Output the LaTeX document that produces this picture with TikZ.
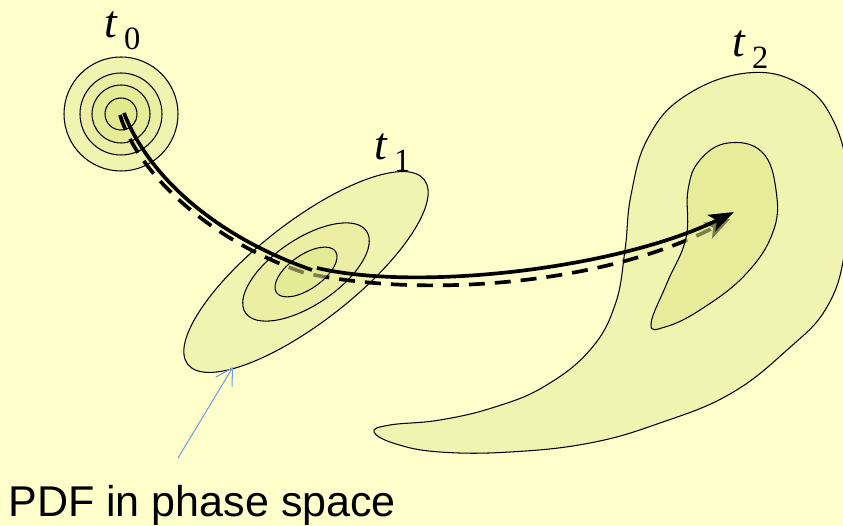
\documentclass[tikz,border=0pt]{standalone}
\usepackage{fontspec}
\setmainfont{Liberation Serif}
\newfontfamily\labelfont{Liberation Sans}
\usetikzlibrary{arrows.meta}

\definecolor{bgyellow}{HTML}{FFFFCC}
\definecolor{pdfA}{HTML}{F1F3B0}
\definecolor{pdfB}{HTML}{ECEFA3}
\definecolor{pdfC}{HTML}{E6EB95}
\definecolor{pdfD}{HTML}{E2E88C}
\definecolor{pdfcore}{HTML}{E1E888}
\definecolor{pointerblue}{HTML}{70A0E0}

\newcommand{\timelabel}[1]{{\fontsize{26}{26}\selectfont\itshape t}\hspace{4pt}\raisebox{-6.6pt}{\fontsize{18.5}{18.5}\selectfont #1}}

\begin{document}
\begin{tikzpicture}[x=0.02cm, y=-0.02cm,
        contour/.style={draw=black, line width=0.6pt},
        core/.style={contour, fill=pdfcore, fill opacity=0.55},
        mean_path/.style={line width=2.1pt},
        ens_path/.style={line width=2.1pt, dash pattern=on 3.2mm off 2mm},
        head/.style={-{Stealth[length=5mm, width=3.6mm, inset=1.2mm]}},
        time_label/.style={anchor=base west, inner sep=0pt},
        pointer/.style={draw=pointerblue, line width=0.6pt, -{Straight Barb[length=3.3mm, width=3.8mm]}}
    ]

    % Pozadí a ořez
    \useasboundingbox (0,0) rectangle (843,526);
    \fill[bgyellow] (0,0) rectangle (843,526);
    \clip (0,0) rectangle (843,526);

    % Středy rozdělení a konce drah
    \coordinate (c0) at (121,114);
    \coordinate (c1) at (306,272);
    \coordinate (m0) at (124,113);
    \coordinate (m1) at (312,270);
    \coordinate (m1b) at (317,268);
    \coordinate (m2) at (734,212);
    \coordinate (e0) at (120,115);
    \coordinate (e1) at (305,273);
    \coordinate (e2) at (730,219);

    % t0: soustředné kružnice
    \foreach \r/\col in {57/pdfA, 41/pdfB, 29/pdfC, 16/pdfD}
        \draw[contour, fill=\col] (c0) circle [radius=\r];

    % t1: protažené elipsy
    \draw[contour, fill=pdfA, rotate around={38:(c1)}] (c1) ellipse [x radius=150, y radius=50];
    \draw[contour, fill=pdfB, rotate around={34:(c1)}] (c1) ellipse [x radius=73, y radius=33];

    % t2: zahnutá oblast
    \draw[contour, fill=pdfA] plot[smooth cycle, tension=0.7] coordinates {
        (747,73) (800,84) (833,120) (848,180) (845,250) (827,307) (787,350) (730,394)
        (660,423) (590,443) (510,452) (440,452) (396,444) (374,432) (390,425) (440,420)
        (495,407) (545,386) (590,350) (615,305) (625,250) (631,195) (648,138) (685,96)};

    % Čárkovaná dráha
    \draw[ens_path, head] (e0) .. controls (140,180) and (220,245) .. (e1)
        .. controls (430,300) and (610,282) .. (e2);

    % Vnitřní oblasti (průsvitné, překrývají čárkovanou dráhu)
    \draw[core, rotate around={35:(c1)}] (c1) ellipse [x radius=36, y radius=17];
    \draw[core] plot[smooth cycle, tension=0.7] coordinates {
        (728,143) (762,152) (776,190) (773,232) (745,275) (700,310) (665,327) (651,324)
        (667,283) (686,238) (688,190) (700,160)};

    % Plná dráha
    \draw[mean_path] (m0) .. controls (150,180) and (220,238) .. (m1);
    \draw[mean_path, head] (m1b) .. controls (420,292) and (620,268) .. (m2);

    % Popisky časů
    \node[time_label] (t0) at (104,38) {\timelabel{0}};
    \node[time_label] (t1) at (374,160) {\timelabel{1}};
    \node[time_label] (t2) at (732,57) {\timelabel{2}};

    % Popisek a šipka
    \node[anchor=base west, inner sep=0pt, font=\labelfont\fontsize{24.5}{24.5}\selectfont] (pdf) at (8,517) {PDF in phase space};
    \coordinate (pdftail) at (178,458);
    \coordinate (pdfhead) at (233,367);
    \draw[pointer] (pdftail) -- (pdfhead);

\end{tikzpicture}
\end{document}
